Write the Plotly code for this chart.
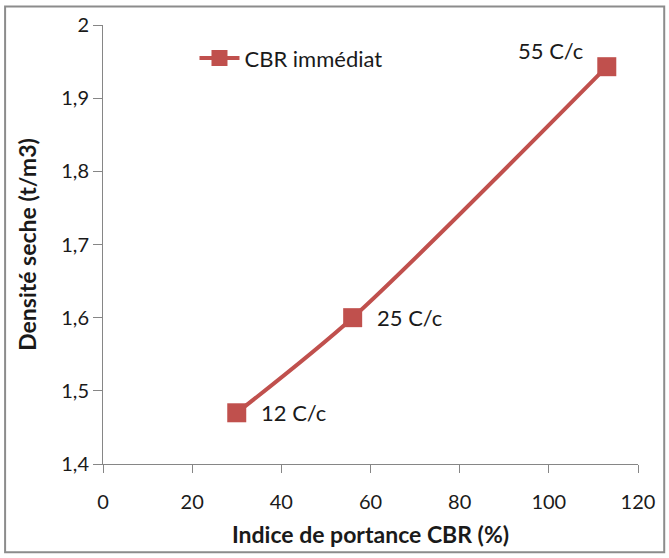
import plotly.graph_objects as go

# données
cbr = [30, 56, 113]
densite = [1.47, 1.60, 1.943]
etiquettes = ["12 C/c", "25 C/c", "55 C/c"]

y_ticks = [1.4, 1.5, 1.6, 1.7, 1.8, 1.9, 2.0]
y_ticktext = ["1,4", "1,5", "1,6", "1,7", "1,8", "1,9", "2"]
x_ticks = [0, 20, 40, 60, 80, 100, 120]

rouge = "#C0504D"
gris = "#868686"
police = "Lato"
texte = "#1a1a1a"

fig = go.Figure()

fig.add_trace(
    go.Scatter(
        x=cbr, y=densite,
        mode="lines+markers",
        name="CBR immédiat",
        line=dict(color=rouge, width=4, shape="spline", smoothing=0.8),
        marker=dict(symbol="square", size=19, color=rouge),
    )
)

# étiquettes des points (décalage à la Excel)
decalages = [(22, 0, "left"), (22, 0, "left"), (-22, 16, "right")]
for xv, yv, lab, (dx, dy, anc) in zip(cbr, densite, etiquettes, decalages):
    fig.add_annotation(
        x=xv, y=yv, text=lab, showarrow=False,
        xanchor=anc, yanchor="middle", xshift=dx, yshift=dy,
        font=dict(family=police, size=22, color=texte),
    )

fig.update_layout(
    width=669, height=558,
    margin=dict(l=103, r=31, t=23, b=94),
    paper_bgcolor="white", plot_bgcolor="white",
    separators=", ",
    font=dict(family=police, size=20, color=texte),
    showlegend=True,
    legend=dict(
        x=0.171, y=0.972, xanchor="left", yanchor="top",
        bgcolor="rgba(0,0,0,0)",
        font=dict(family=police, size=22, color=texte),
        itemwidth=40,
    ),
    shapes=[
        dict(type="rect", xref="paper", yref="paper",
             x0=-0.183, x1=1.049, y0=-0.201, y1=1.042,
             line=dict(color="#8c8c8c", width=2)),
    ],
)

fig.update_xaxes(
    range=[0, 120], tickvals=x_ticks,
    showgrid=False, zeroline=False,
    showline=True, linecolor=gris, linewidth=1,
    ticks="outside", ticklen=8, tickcolor=gris,
    ticklabelstandoff=12,
    tickfont=dict(family=police, size=20, color=texte),
    title=dict(text="<b>Indice de portance CBR (%)</b>",
               font=dict(family=police, size=23, color=texte), standoff=14),
)

fig.update_yaxes(
    range=[1.4, 2.0], tickvals=y_ticks, ticktext=y_ticktext,
    showgrid=False, zeroline=False,
    showline=True, linecolor=gris, linewidth=1,
    ticks="outside", ticklen=9, tickcolor=gris,
    tickfont=dict(family=police, size=20, color=texte),
    title=dict(text="<b>Densité seche (t/m3)</b>",
               font=dict(family=police, size=23, color=texte), standoff=18),
)

fig.write_html("out.html", config={"displayModeBar": False},
               post_script="document.body.style.margin='0';")
